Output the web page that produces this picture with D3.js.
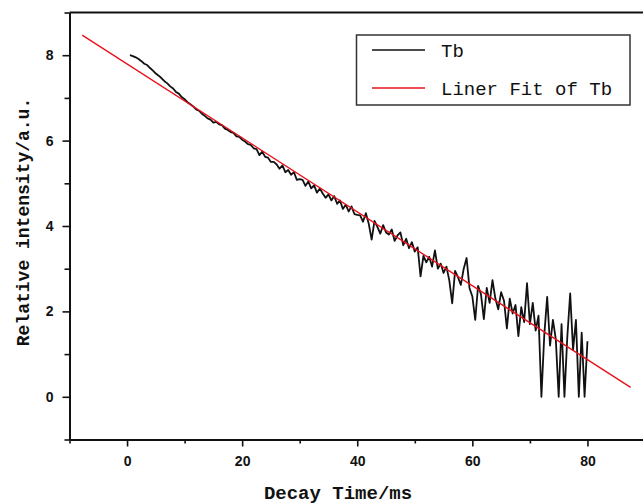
<!DOCTYPE html>
<html>
<head>
<meta charset="utf-8">
<script src="https://cdn.jsdelivr.net/npm/d3@7"></script>
<style>
  body { margin: 0; background: #fff; }
  svg { display: block; }
  .tick text { font-family: "Liberation Sans", Arial, sans-serif; font-weight: bold; font-size: 14px; fill: #111; }
  .title { font-family: "Liberation Mono", "Courier New", monospace; font-weight: bold; fill: #111; }
  .legend-text { font-family: "Liberation Mono", "Courier New", monospace; font-size: 19px; fill: #111; }
</style>
</head>
<body>
<script>
var timeStart = 0.5, timeStep = 0.5;
var tbValues = [
  8.00, 7.98, 7.95, 7.91, 7.86, 7.80, 7.77, 7.70, 7.64, 7.57,
  7.52, 7.46, 7.39, 7.34, 7.27, 7.22, 7.14, 7.10, 7.02, 6.97,
  6.90, 6.85, 6.80, 6.73, 6.70, 6.63, 6.58, 6.52, 6.49, 6.42,
  6.44, 6.38, 6.36, 6.28, 6.25, 6.20, 6.18, 6.10, 6.09, 6.02,
  5.98, 5.92, 5.90, 5.82, 5.80, 5.66, 5.74, 5.62, 5.60, 5.50,
  5.50, 5.44, 5.34, 5.42, 5.26, 5.31, 5.20, 5.26, 5.08, 5.10,
  5.08, 4.94, 5.04, 4.88, 4.95, 4.78, 4.88, 4.76, 4.66, 4.74,
  4.60, 4.70, 4.52, 4.60, 4.40, 4.50, 4.34, 4.46, 4.28, 4.26,
  4.25, 4.10, 4.30, 4.05, 3.68, 4.12, 3.98, 3.82, 4.02, 3.85,
  3.80, 3.92, 3.65, 3.78, 3.85, 3.55, 3.70, 3.48, 3.62, 3.40,
  3.50, 2.82, 3.30, 3.15, 3.28, 3.05, 3.43, 3.00, 3.12, 2.90,
  3.05, 2.72, 2.19, 2.95, 2.80, 2.62, 3.00, 3.25, 2.55, 2.35,
  1.80, 2.60, 2.40, 1.82, 2.55, 2.20, 2.73, 2.30, 2.05, 2.45,
  2.25, 1.60, 2.30, 1.95, 2.15, 1.42, 2.10, 1.75, 2.66, 1.70,
  2.20, 1.55, 1.90, 0.00, 1.45, 2.34, 1.20, 1.80, 1.35, 0.00,
  1.70, 0.00, 1.40, 2.42, 1.10, 1.80, 0.00, 1.50, 0.00, 1.30
];

// linear fit line end points
var fitX = [-7.8, 87.5];
var fitY = [8.47, 0.22];

var xMajorTicks = [0, 20, 40, 60, 80];
var xMinorTicks = [-10, 10, 30, 50, 70, 90];
var yMajorTicks = [0, 2, 4, 6, 8];
var yMinorTicks = [-1, 1, 3, 5, 7, 9];

var legendLabels = ["Tb", "Liner Fit of Tb"];
var legendColors = ["#111", "#e8101a"];

var width = 643, height = 504;

var svg = d3.select("body").append("svg")
    .attr("width", width)
    .attr("height", height);

var x = d3.scaleLinear().domain([-10, 90]).range([69.5, 645]);
var y = d3.scaleLinear().domain([-1, 9]).range([439.5, 12.5]);

var tbData = tbValues.map(function(v, i) {
  return { t: timeStart + i * timeStep, v: v };
});
var fitData = fitX.map(function(v, i) { return { t: v, v: fitY[i] }; });

var line = d3.line()
    .x(function(d) { return x(d.t); })
    .y(function(d) { return y(d.v); });

// data
svg.append("path")
    .datum(tbData)
    .attr("d", line)
    .attr("fill", "none")
    .attr("stroke", "#111")
    .attr("stroke-width", 1.8)
    .attr("stroke-linejoin", "round");

svg.append("path")
    .datum(fitData)
    .attr("d", line)
    .attr("fill", "none")
    .attr("stroke", legendColors[1])
    .attr("stroke-width", 1.4);

// frame top / right
svg.append("path")
    .attr("d", "M" + x(-10) + "," + y(9) + "H" + x(90) + "V" + y(-1))
    .attr("fill", "none")
    .attr("stroke", "#111")
    .attr("stroke-width", 2);

// axes
var xAxis = svg.append("g")
    .attr("transform", "translate(0," + y(-1) + ")")
    .call(d3.axisBottom(x).tickValues(xMajorTicks).tickSize(7).tickSizeOuter(0).tickPadding(10));
var xMinor = svg.append("g")
    .attr("transform", "translate(0," + y(-1) + ")")
    .call(d3.axisBottom(x).tickValues(xMinorTicks).tickSize(4).tickFormat(""));

var yAxis = svg.append("g")
    .attr("transform", "translate(" + x(-10) + ",0)")
    .call(d3.axisLeft(y).tickValues(yMajorTicks).tickSize(7).tickSizeOuter(0).tickPadding(9));
var yMinor = svg.append("g")
    .attr("transform", "translate(" + x(-10) + ",0)")
    .call(d3.axisLeft(y).tickValues(yMinorTicks).tickSize(5).tickFormat(""));

svg.selectAll(".domain").attr("stroke", "#111").attr("stroke-width", 2);
xMinor.select(".domain").remove();
yMinor.select(".domain").remove();
svg.selectAll(".tick line").attr("stroke", "#111").attr("stroke-width", 1.6);

// axis titles
svg.append("text")
    .attr("class", "title")
    .attr("x", 338)
    .attr("y", 499)
    .attr("text-anchor", "middle")
    .style("font-size", "19px")
    .text("Decay Time/ms");

svg.append("text")
    .attr("class", "title")
    .attr("transform", "translate(29,222) rotate(-90)")
    .attr("text-anchor", "middle")
    .style("font-size", "18px")
    .text("Relative intensity/a.u.");

// legend
var legend = svg.append("g");
legend.append("rect")
    .attr("x", 356.5)
    .attr("y", 35)
    .attr("width", 273.5)
    .attr("height", 70)
    .attr("fill", "#fff")
    .attr("stroke", "#333")
    .attr("stroke-width", 1.5);

var items = legend.selectAll(".item")
    .data(legendLabels)
    .enter().append("g")
    .attr("class", "item")
    .attr("transform", function(d, i) { return "translate(0," + (50 + i * 38) + ")"; });

items.append("line")
    .attr("x1", 372).attr("x2", 425)
    .attr("y1", 0).attr("y2", 0)
    .attr("stroke", function(d, i) { return legendColors[i]; })
    .attr("stroke-width", 1.4);

items.append("text")
    .attr("class", "legend-text")
    .attr("x", 441)
    .attr("y", 7)
    .text(function(d) { return d; });
</script>
</body>
</html>
